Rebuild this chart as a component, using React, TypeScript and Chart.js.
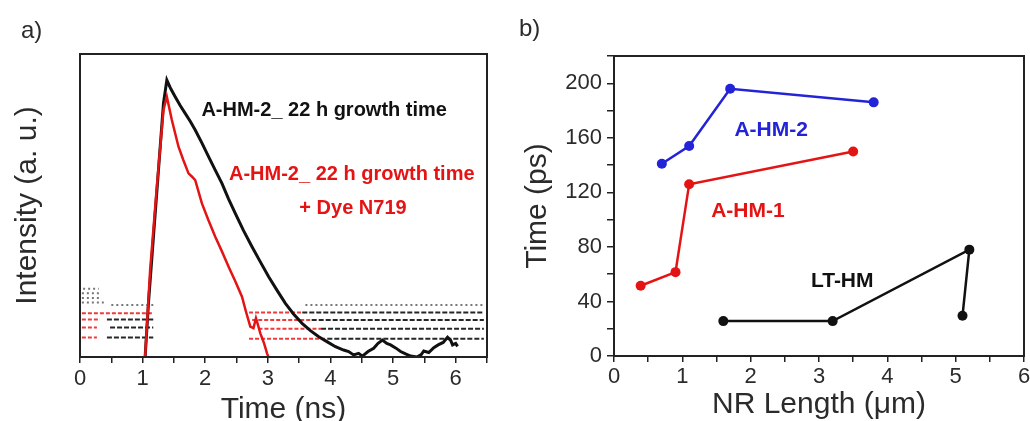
import React, { useEffect, useRef } from "react";
import { Chart, registerables } from "chart.js";

Chart.register(...registerables);

const FONT = "'Liberation Sans', Arial, Helvetica, sans-serif";

// ---------- Panel a: intensity decay ----------
const blackTime = [1.04, 1.093, 1.173, 1.253, 1.333, 1.387, 1.45, 1.52, 1.6, 1.68, 1.76, 1.84, 1.95, 2.053, 2.16, 2.267, 2.37, 2.48, 2.61, 2.747, 2.88, 3.013, 3.15, 3.28, 3.41, 3.547, 3.68, 3.813, 3.95, 4.08, 4.21, 4.29, 4.37, 4.45, 4.51, 4.6, 4.69, 4.76, 4.83, 4.9, 4.96, 5.04, 5.12, 5.2, 5.28, 5.38, 5.45, 5.49, 5.57, 5.65, 5.72, 5.8, 5.87, 5.92, 5.95, 6.0, 6.03];
const blackIntensity = [0, 0.177, 0.397, 0.617, 0.837, 0.914, 0.885, 0.859, 0.83, 0.804, 0.778, 0.749, 0.705, 0.661, 0.617, 0.573, 0.523, 0.474, 0.418, 0.364, 0.314, 0.265, 0.219, 0.177, 0.142, 0.111, 0.087, 0.067, 0.05, 0.034, 0.023, 0.018, 0.007, 0.012, 0.003, 0.018, 0.029, 0.045, 0.056, 0.045, 0.04, 0.03, 0.018, 0.01, 0.003, 0.0, 0.008, 0.02, 0.015, 0.031, 0.04, 0.048, 0.065, 0.055, 0.04, 0.045, 0.035];

const redTime = [1.04, 1.12, 1.227, 1.333, 1.387, 1.467, 1.573, 1.65, 1.733, 1.79, 1.84, 1.947, 2.05, 2.16, 2.27, 2.373, 2.48, 2.587, 2.65, 2.72, 2.77, 2.81, 2.85, 2.88, 2.94, 2.987, 3.01];
const redIntensity = [0, 0.287, 0.562, 0.815, 0.859, 0.782, 0.694, 0.65, 0.606, 0.595, 0.584, 0.507, 0.452, 0.397, 0.347, 0.298, 0.25, 0.199, 0.15, 0.1, 0.095, 0.128, 0.1, 0.078, 0.045, 0.012, 0];

// background noise rows (level, start time, end time)
const noiseGrayLevel = [0.225, 0.21, 0.195, 0.18, 0.172, 0.172];
const noiseGrayFrom = [0.05, 0.03, 0.03, 0.03, 0.5, 3.6];
const noiseGrayTo = [0.3, 0.33, 0.35, 0.38, 1.17, 6.45];

const noiseBlackLevel = [0.124, 0.097, 0.064, 0.147, 0.122, 0.093, 0.06];
const noiseBlackFrom = [0.43, 0.48, 0.43, 3.55, 3.7, 3.85, 3.95];
const noiseBlackTo = [1.17, 1.17, 1.17, 6.45, 6.45, 6.45, 6.45];

const noiseRedLevel = [0.144, 0.124, 0.097, 0.064, 0.147, 0.122, 0.093, 0.06];
const noiseRedFrom = [0.03, 0.03, 0.03, 0.03, 2.7, 2.75, 2.85, 2.7];
const noiseRedTo = [1.17, 0.32, 0.27, 0.27, 3.55, 3.7, 3.85, 3.95];

const timeTicksA = { min: 0, max: 6.5, step: 0.5 };

// ---------- Panel b: time vs NR length ----------
const lengthHM2 = [0.7, 1.1, 1.7, 3.8];
const timeHM2 = [141, 154, 196, 186];
const lengthHM1 = [0.39, 0.9, 1.1, 3.5];
const timeHM1 = [51.5, 61.5, 126, 150];
const lengthLT = [1.6, 3.2, 5.2, 5.1];
const timeLT = [25.6, 25.6, 78, 29.5];

const BLACK = "#111111";
const RED = "#e41414";
const BLUE = "#2323d8";
const TEXT = "#2b2b2b";

const toPoints = (xs: number[], ys: number[]) => xs.map((x, i) => ({ x, y: ys[i] }));

const rows = (levels: number[], from: number[], to: number[]) =>
  levels.map((lv, i) => [{ x: from[i], y: lv }, { x: to[i], y: lv }]);

const boxPlugin = {
  id: "box",
  afterDraw(chart: any) {
    const { ctx, chartArea } = chart;
    const { left, top, right, bottom } = chartArea;
    ctx.save();
    ctx.strokeStyle = "#222";
    ctx.lineWidth = 2;
    ctx.strokeRect(left, top, right - left, bottom - top);
    ctx.restore();
  },
};

type Note = { text: string; x: number; y: number; color: string; size: number };

const notesPlugin = (notes: Note[]) => ({
  id: "notes",
  afterDatasetsDraw(chart: any) {
    const { ctx, scales } = chart;
    ctx.save();
    ctx.textAlign = "center";
    ctx.textBaseline = "middle";
    for (const n of notes) {
      ctx.font = `bold ${n.size}px ${FONT}`;
      ctx.fillStyle = n.color;
      ctx.fillText(n.text, scales.x.getPixelForValue(n.x), scales.y.getPixelForValue(n.y));
    }
    ctx.restore();
  },
});

const isInt = (v: number) => Math.abs(v - Math.round(v)) < 1e-6;

function PanelA() {
  const ref = useRef<HTMLCanvasElement>(null);
  useEffect(() => {
    if (!ref.current) return;
    const noiseSets: any[] = [];
    rows(noiseGrayLevel, noiseGrayFrom, noiseGrayTo).forEach((d) =>
      noiseSets.push({ data: d, borderColor: "#777777", borderWidth: 2, borderDash: [2, 3], pointRadius: 0 })
    );
    rows(noiseBlackLevel, noiseBlackFrom, noiseBlackTo).forEach((d) =>
      noiseSets.push({ data: d, borderColor: "#262626", borderWidth: 2, borderDash: [5, 2], pointRadius: 0 })
    );
    rows(noiseRedLevel, noiseRedFrom, noiseRedTo).forEach((d) =>
      noiseSets.push({ data: d, borderColor: "#ee3a3a", borderWidth: 2, borderDash: [4, 2], pointRadius: 0 })
    );
    const notes: Note[] = [
      { text: "A-HM-2_ 22 h growth time", x: 3.9, y: 0.813, color: BLACK, size: 20 },
      { text: "A-HM-2_ 22 h growth time", x: 4.34, y: 0.604, color: RED, size: 20 },
      { text: "+ Dye N719", x: 4.36, y: 0.491, color: RED, size: 20 },
    ];
    const chart = new Chart(ref.current, {
      type: "scatter",
      data: {
        datasets: [
          { data: toPoints(redTime, redIntensity), showLine: true, borderColor: RED, borderWidth: 2.5, pointRadius: 0 },
          { data: toPoints(blackTime, blackIntensity), showLine: true, borderColor: BLACK, borderWidth: 3, pointRadius: 0 },
          ...noiseSets.map((s) => ({ ...s, showLine: true })),
        ],
      },
      options: {
        responsive: false,
        animation: false,
        events: [],
        layout: { padding: { left: 0, right: 28, top: 54, bottom: 0 } },
        plugins: { legend: { display: false }, tooltip: { enabled: false }, title: { display: false } },
        scales: {
          x: {
            type: "linear",
            min: timeTicksA.min,
            max: timeTicksA.max,
            border: { display: false },
            grid: { display: true, drawOnChartArea: false, drawTicks: true, tickLength: 6, color: "#222", lineWidth: 1.5 },
            ticks: {
              stepSize: timeTicksA.step,
              color: TEXT,
              font: { family: FONT, size: 22 },
              padding: 3,
              maxRotation: 0,
              autoSkip: false,
              callback: (v: any) => (isInt(Number(v)) ? String(Math.round(Number(v))) : ""),
            },
            title: {
              display: true,
              text: "Time (ns)",
              color: TEXT,
              font: { family: FONT, size: 30, lineHeight: 1 },
              padding: { top: 0, bottom: -4 },
            },
            afterFit: (s: any) => {
              s.height = 64;
              s.paddingLeft = 0;
              s.paddingRight = 0;
            },
          },
          y: {
            type: "linear",
            min: 0,
            max: 1,
            border: { display: false },
            grid: { display: false },
            ticks: { display: false },
            title: {
              display: true,
              text: "Intensity (a. u.)",
              color: TEXT,
              font: { family: FONT, size: 30, lineHeight: 1 },
              padding: { top: 13, bottom: 0 },
            },
            afterFit: (s: any) => {
              s.width = 80;
              s.paddingTop = 0;
              s.paddingBottom = 0;
            },
          },
        },
      } as any,
      plugins: [boxPlugin, notesPlugin(notes)],
    });
    return () => chart.destroy();
  }, []);
  return <canvas ref={ref} width={515} height={421} style={{ position: "absolute", left: 0, top: 0, width: 515, height: 421 }} />;
}

function PanelB() {
  const ref = useRef<HTMLCanvasElement>(null);
  useEffect(() => {
    if (!ref.current) return;
    const notes: Note[] = [
      { text: "A-HM-2", x: 2.3, y: 165.6, color: BLUE, size: 21 },
      { text: "A-HM-1", x: 1.96, y: 106.5, color: RED, size: 21 },
      { text: "LT-HM", x: 3.34, y: 54.5, color: BLACK, size: 21 },
    ];
    const series = (xs: number[], ys: number[], color: string) => ({
      data: toPoints(xs, ys),
      showLine: true,
      borderColor: color,
      backgroundColor: color,
      borderWidth: 2.5,
      pointRadius: 5,
      pointBorderWidth: 0,
    });
    const chart = new Chart(ref.current, {
      type: "scatter",
      data: {
        datasets: [
          series(lengthHM2, timeHM2, BLUE),
          series(lengthHM1, timeHM1, RED),
          series(lengthLT, timeLT, BLACK),
        ],
      },
      options: {
        responsive: false,
        animation: false,
        events: [],
        layout: { padding: { left: 0, right: 6, top: 56, bottom: 0 } },
        plugins: { legend: { display: false }, tooltip: { enabled: false }, title: { display: false } },
        scales: {
          x: {
            type: "linear",
            min: 0,
            max: 6,
            border: { display: false },
            grid: { display: true, drawOnChartArea: false, drawTicks: true, tickLength: 6, color: "#222", lineWidth: 1.5 },
            ticks: {
              stepSize: 0.5,
              color: TEXT,
              font: { family: FONT, size: 22 },
              padding: 2,
              maxRotation: 0,
              autoSkip: false,
              callback: (v: any) => (isInt(Number(v)) ? String(Math.round(Number(v))) : ""),
            },
            title: {
              display: true,
              text: "NR Length (\u03bcm)",
              color: TEXT,
              font: { family: FONT, size: 30, lineHeight: 1 },
              padding: { top: 0, bottom: 1 },
            },
            afterFit: (s: any) => {
              s.height = 65;
              s.paddingLeft = 0;
              s.paddingRight = 0;
            },
          },
          y: {
            type: "linear",
            min: 0,
            max: 220,
            border: { display: false },
            grid: { display: true, drawOnChartArea: false, drawTicks: true, tickLength: 7, color: "#222", lineWidth: 1.5 },
            ticks: {
              stepSize: 20,
              color: TEXT,
              font: { family: FONT, size: 22 },
              padding: 5,
              autoSkip: false,
              callback: (v: any) => {
                const n = Number(v);
                return Math.round(n) % 40 === 0 && n <= 200 ? String(Math.round(n)) : "";
              },
            },
            title: {
              display: true,
              text: "Time (ps)",
              color: TEXT,
              font: { family: FONT, size: 30, lineHeight: 1 },
              padding: { top: 8, bottom: 0 },
            },
            afterFit: (s: any) => {
              s.width = 99;
              s.paddingTop = 0;
              s.paddingBottom = 0;
            },
          },
        },
      } as any,
      plugins: [boxPlugin, notesPlugin(notes)],
    });
    return () => chart.destroy();
  }, []);
  return <canvas ref={ref} width={515} height={421} style={{ position: "absolute", left: 515, top: 0, width: 515, height: 421 }} />;
}

export default function App() {
  const label: React.CSSProperties = {
    position: "absolute",
    fontFamily: FONT,
    fontSize: 24,
    lineHeight: "24px",
    color: TEXT,
  };
  return (
    <div style={{ position: "absolute", left: 0, top: 0, width: 1030, height: 421, background: "#ffffff", overflow: "hidden" }}>
      <PanelA />
      <PanelB />
      <div style={{ ...label, left: 21, top: 18 }}>a)</div>
      <div style={{ ...label, left: 519, top: 16 }}>b)</div>
    </div>
  );
}
